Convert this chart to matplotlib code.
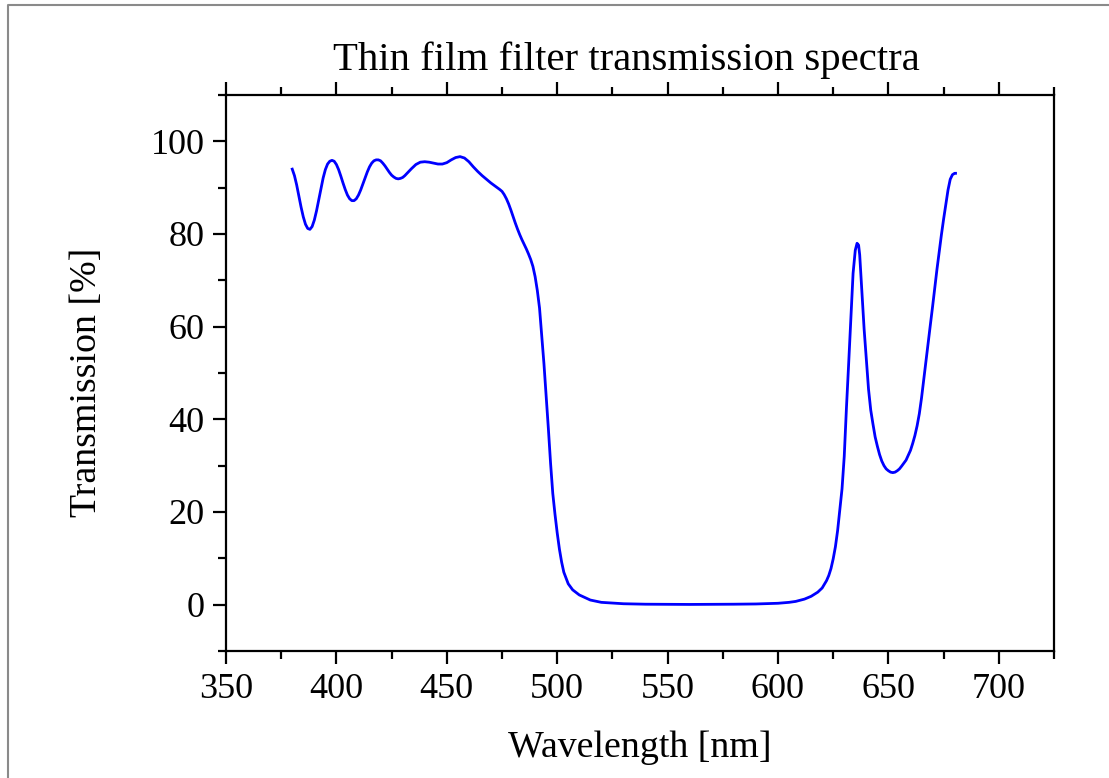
import matplotlib
matplotlib.use("Agg")
import matplotlib.pyplot as plt
from matplotlib.lines import Line2D
from matplotlib.ticker import MultipleLocator

# Measured transmission of the thin film filter
wavelength_nm = [
    380, 381, 382, 383, 384, 385, 386, 387, 388, 389,
    390, 391, 392, 393, 394, 395, 396, 397, 398, 399,
    400, 401, 402, 403, 404, 405, 406, 407, 408, 409,
    410, 411, 412, 413, 414, 415, 416, 417, 418, 419,
    420, 421, 422, 423, 424, 425, 426, 427, 428, 429,
    430, 431, 432, 434, 436, 438,
    440, 442, 444, 446, 448, 450, 452, 454, 456, 458,
    460, 462, 464, 466, 468, 470, 472, 474, 475, 476,
    477, 478, 479, 480, 481, 482, 483, 484, 485, 486,
    487, 488, 489, 490, 491, 492, 493,
    494, 495, 496, 497, 498, 499, 500, 501, 502, 503,
    505, 507, 510, 515, 520, 530, 540, 560, 580, 590,
    600, 605, 608, 612, 615, 618, 620, 622, 623, 624,
    625, 626, 627, 628, 629, 630, 631, 632, 633, 634,
    635, 635.8, 636.5, 637, 638, 639, 640, 641, 642, 643,
    644, 645, 646, 647, 648, 649, 650, 651, 652, 653,
    654, 655, 656, 658, 660, 661, 662, 663, 664, 665,
    666, 667, 668, 669,
    670, 672, 674, 675, 676, 677, 678, 679, 680, 680.4,
]
transmission_pct = [
    94.0, 92.6, 90.6, 88.2, 85.8, 83.7, 82.1, 81.2, 81.0, 81.6,
    83.0, 85.0, 87.4, 89.9, 92.1, 93.9, 95.1, 95.7, 95.9, 95.7,
    95.0, 93.9, 92.5, 91.0, 89.6, 88.4, 87.6, 87.2, 87.2, 87.6,
    88.4, 89.5, 90.8, 92.1, 93.4, 94.5, 95.3, 95.8, 96.0, 96.0,
    95.8, 95.3, 94.7, 94.0, 93.3, 92.7, 92.3, 92.0, 91.9, 92.0,
    92.2, 92.6, 93.1, 94.1, 95.0, 95.5,
    95.6, 95.5, 95.3, 95.1, 95.1, 95.4, 96.0, 96.5, 96.7, 96.4,
    95.6, 94.5, 93.5, 92.6, 91.8, 91.0, 90.3, 89.6, 89.2, 88.5,
    87.6, 86.5, 85.2, 83.8, 82.4, 81.1, 79.9, 78.8, 77.8, 76.8,
    75.7, 74.5, 73.0, 70.8, 67.8, 64.0, 58.0,
    52.0, 45.0, 38.0, 30.5, 24.0, 19.5, 15.5, 12.0, 9.2, 7.0,
    4.5, 3.2, 2.1, 1.0, 0.5, 0.2, 0.1, 0.05, 0.1, 0.15,
    0.3, 0.5, 0.7, 1.2, 1.8, 2.7, 3.6, 5.2, 6.3, 7.8,
    9.9, 12.5, 16.0, 20.5, 25.0, 32.0, 42.5, 52.0, 62.0, 71.5,
    76.5, 78.0, 77.6, 75.5, 67.5, 59.5, 53.0, 46.5, 42.0, 39.0,
    36.2, 34.2, 32.4, 31.0, 30.0, 29.3, 28.9, 28.6, 28.5, 28.6,
    28.9, 29.3, 29.9, 31.2, 33.3, 34.8, 36.5, 38.6, 41.2, 44.6,
    48.6, 52.6, 56.6, 60.4,
    64.3, 72.4, 79.8, 83.2, 86.3, 89.5, 91.8, 92.8, 93.1, 93.1,
]

x_ticks = [350, 400, 450, 500, 550, 600, 650, 700]
y_ticks = [0, 20, 40, 60, 80, 100]

plt.rcParams["font.family"] = ["Liberation Serif", "DejaVu Serif"]

W, H = 1109, 778
fig = plt.figure(figsize=(W / 100, H / 100), dpi=100)
ax = fig.add_axes([226 / W, 1 - 651 / H, (1054 - 226) / W, (651 - 95) / H])

ax.plot(wavelength_nm, transmission_pct, color="#0000ff", lw=2.0,
        solid_joinstyle="round")

ax.set_xlim(350, 725)
ax.set_ylim(-10, 110)
ax.set_xticks(x_ticks)
ax.set_yticks(y_ticks)
ax.xaxis.set_minor_locator(MultipleLocator(25))
ax.yaxis.set_minor_locator(MultipleLocator(10))

for s in ax.spines.values():
    s.set_linewidth(1.6)
ax.tick_params(which="both", direction="out", width=1.6, top=True, right=False,
               labeltop=False, labelsize=26, colors="black")
ax.tick_params(which="major", length=9.5, pad=6)
ax.tick_params(which="minor", length=5.5)

fig.text(626 / W, 1 - 70 / H, "Thin film filter transmission spectra",
         ha="center", va="baseline", fontsize=29.3)
fig.text(639.5 / W, 1 - 757 / H, "Wavelength [nm]",
         ha="center", va="baseline", fontsize=27.3)
fig.text(87 / W, 1 - 382 / H, "Transmission [%]", rotation=90,
         ha="center", va="center", fontsize=27.3)

# partial frame around the figure
fig.add_artist(Line2D([8 / W, 8 / W, 1.0], [0.0, 1 - 5 / H, 1 - 5 / H],
                      transform=fig.transFigure, color="#8a8a8a", lw=1.5))

fig.savefig("out.png", dpi=100)
